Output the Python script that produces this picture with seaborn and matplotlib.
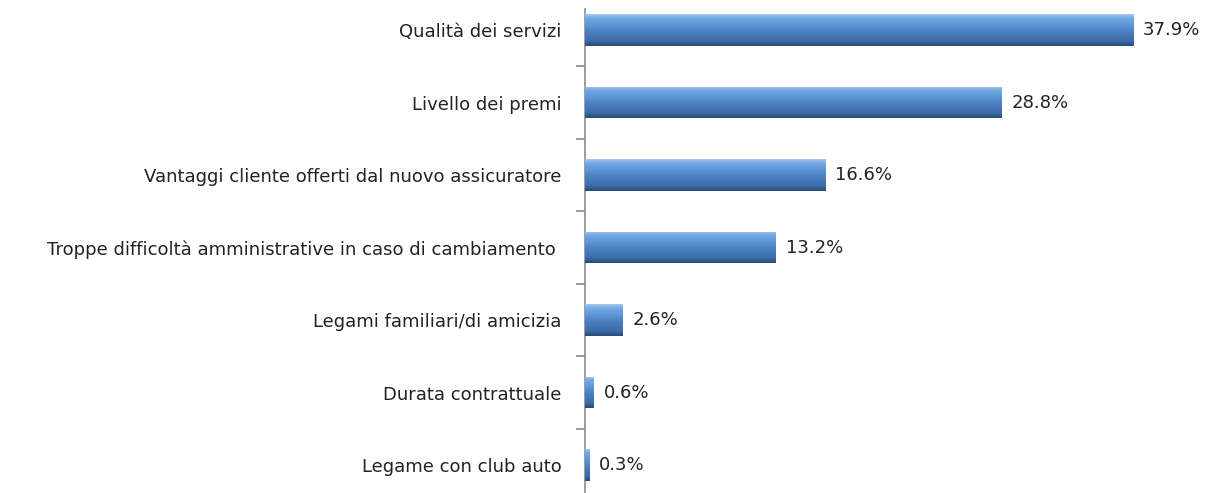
import numpy as np
import pandas as pd
import matplotlib
matplotlib.use("Agg")
import matplotlib.pyplot as plt
from matplotlib.colors import LinearSegmentedColormap
from matplotlib.ticker import FixedLocator
import seaborn as sns

# data
categories = [
    "Qualità dei servizi",
    "Livello dei premi",
    "Vantaggi cliente offerti dal nuovo assicuratore",
    "Troppe difficoltà amministrative in caso di cambiamento ",
    "Legami familiari/di amicizia",
    "Durata contrattuale",
    "Legame con club auto",
]
values = [37.9, 28.8, 16.6, 13.2, 2.6, 0.6, 0.3]
value_labels = ["37.9%", "28.8%", "16.6%", "13.2%", "2.6%", "0.6%", "0.3%"]

df = pd.DataFrame({"motivo": categories, "quota": values})

sns.set_style("white")
plt.rcParams["font.family"] = ["DejaVu Sans"]

W, H = 1208, 493
fig = plt.figure(figsize=(W / 100, H / 100), dpi=100)
ax = fig.add_axes([585 / W, 0, 623 / W, 484 / H])

sns.barplot(data=df, y="motivo", x="quota", orient="h", width=0.44,
            color="#4a7fc0", saturation=1, ax=ax)

# excel-like shaded bars
grad = LinearSegmentedColormap.from_list("bar", [
    (0.0, "#a8c8ee"), (0.12, "#72a8e4"), (0.38, "#5a92d3"),
    (0.55, "#4a7fc0"), (0.85, "#3d6ca7"), (1.0, "#294a76")])
shade = np.linspace(0, 1, 64).reshape(-1, 1)
for p in ax.patches:
    p.set_edgecolor("none")
    x0, y0, w, h = p.get_x(), p.get_y(), p.get_width(), p.get_height()
    im = ax.imshow(shade, cmap=grad, aspect="auto", interpolation="bicubic",
                   extent=(x0, x0 + w, y0 + h, y0), zorder=3)
    im.set_clip_path(p)

for i, (v, lab) in enumerate(zip(values, value_labels)):
    ax.annotate(lab, (v, i), xytext=(7, 0), textcoords="offset points",
                va="center", ha="left", fontsize=13, color="#222222")

ax.set_xlim(0, 623 / 14.46)
ax.set_ylim(6.386, -0.29)
ax.set_xlabel("")
ax.set_ylabel("")
ax.xaxis.set_visible(False)

for s in ["top", "right", "bottom"]:
    ax.spines[s].set_visible(False)
ax.spines["left"].set_color("#8c8c8c")
ax.spines["left"].set_linewidth(1.2)

ax.yaxis.set_minor_locator(FixedLocator(np.arange(0.5, len(categories) - 1, 1)))
ax.tick_params(axis="y", which="major", length=0, pad=17, labelsize=13,
               labelcolor="#222222")
ax.tick_params(axis="y", which="minor", length=6.5, width=1.2,
               color="#8c8c8c", left=True)

fig.savefig("out.png", dpi=100)
